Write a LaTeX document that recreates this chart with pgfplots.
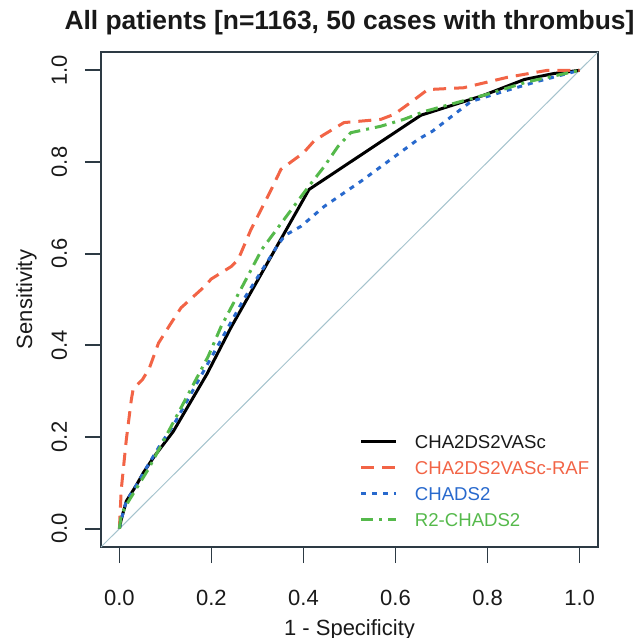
\documentclass[border=0pt]{standalone}
\usepackage{fontspec}
\setmainfont{Liberation Sans}
\usepackage{pgfplots}
\pgfplotsset{compat=1.18}
\definecolor{framec}{RGB}{45,58,68}
\definecolor{redc}{RGB}{242,100,70}
\definecolor{bluec}{RGB}{40,105,205}
\definecolor{greenc}{RGB}{85,185,75}
\definecolor{diagc}{RGB}{165,195,205}
\definecolor{txt}{RGB}{25,25,25}
\begin{document}
\begin{tikzpicture}
\useasboundingbox (-50.5pt,-45.5pt) rectangle (266.5pt,273.5pt);
\begin{axis}[
  at={(0pt,0pt)}, anchor=south west,
  scale only axis, width=248.5pt, height=247.5pt,
  xmin=-0.04, xmax=1.04, ymin=-0.04, ymax=1.04,
  no markers,
  axis line style={framec, line width=0.9pt},
  xtick={0,0.2,0.4,0.6,0.8,1}, ytick={0,0.2,0.4,0.6,0.8,1},
  xticklabels={0.0,0.2,0.4,0.6,0.8,1.0},
  yticklabels={0.0,0.2,0.4,0.6,0.8,1.0},
  tick pos=left, tick align=outside, major tick length=8pt,
  tick style={framec, line width=0.9pt},
  ticklabel style={font=\fontsize{11}{13}\selectfont, text=txt, inner sep=0pt},
  xticklabel style={anchor=base},
  xticklabel shift=21pt,
  yticklabel style={rotate=90, anchor=base},
  yticklabel shift=9pt,
  title={All patients [n=1163, 50 cases with thrombus]},
  title style={at={(axis description cs:0.5,1)}, anchor=base, yshift=5pt,
    font=\bfseries\fontsize{13.2}{15}\selectfont, text=txt, inner sep=0pt},
  xlabel={1 - Specificity},
  xlabel style={at={(axis description cs:0.5,-0.1798)}, anchor=base,
    font=\fontsize{11}{13}\selectfont, text=txt, inner sep=0pt},
  ylabel={Sensitivity},
  ylabel style={at={(axis description cs:-0.1388,0.5)}, anchor=base,
    font=\fontsize{11}{13}\selectfont, text=txt, inner sep=0pt},
  legend style={draw=none, fill=none, at={(axis description cs:0.521,0.2257)},
    anchor=north west, inner sep=0pt, outer sep=0pt, row sep=6.3pt, column sep=8.5pt,
    font=\fontsize{9.3}{11}\selectfont,
    nodes={inner sep=0pt, text height=6.7pt, text depth=0pt}},
  legend cell align=left,
  legend image code/.code={\draw[#1] (0pt,0pt) -- (17.5pt,0pt);},
]
\addplot[diagc, line width=0.5pt, forget plot] coordinates {(-0.04,-0.04) (1.04,1.04)};
\addplot[black, line width=1.5pt, line join=round] coordinates {
(0,0) (0.004,0.02) (0.015,0.06) (0.037,0.095) (0.052,0.122) (0.076,0.158) (0.117,0.212)
(0.19,0.337) (0.243,0.44) (0.412,0.74) (0.655,0.902) (0.79,0.945) (0.88,0.98)
(0.944,0.993) (1,1)};
\addlegendentry{\textcolor{txt}{CHA2DS2VASc}}
\addplot[redc, line width=1.5pt, dash pattern=on 6.5pt off 4pt, line join=round] coordinates {
(0,0) (0.004,0.085) (0.015,0.194) (0.026,0.282) (0.03,0.305) (0.05,0.325) (0.065,0.35)
(0.085,0.405) (0.11,0.445) (0.134,0.482) (0.178,0.522) (0.2,0.545) (0.243,0.572)
(0.258,0.587) (0.286,0.653) (0.33,0.74) (0.351,0.784) (0.40,0.82) (0.423,0.846)
(0.445,0.86) (0.488,0.886) (0.568,0.893) (0.597,0.904) (0.633,0.93) (0.67,0.958)
(0.748,0.962) (0.844,0.985) (0.93,1.0) (1,1)};
\addlegendentry{\textcolor{redc}{CHA2DS2VASc-RAF}}
\addplot[bluec, line width=1.5pt, dash pattern=on 2.5pt off 3pt, line join=round] coordinates {
(0,0) (0.004,0.02) (0.015,0.06) (0.04,0.1) (0.06,0.135) (0.09,0.185) (0.117,0.225)
(0.27,0.5) (0.345,0.62) (0.36,0.64) (0.395,0.66) (0.445,0.703) (0.525,0.758)
(0.65,0.85) (0.68,0.867) (0.764,0.932) (0.835,0.954) (0.909,0.976) (1,1)};
\addlegendentry{\textcolor{bluec}{CHADS2}}
\addplot[greenc, line width=1.5pt, dash pattern=on 6pt off 3pt on 1.5pt off 3pt, line join=round] coordinates {
(0,0) (0.004,0.03) (0.02,0.06) (0.063,0.13) (0.095,0.19) (0.193,0.376) (0.221,0.441)
(0.31,0.61) (0.41,0.745) (0.445,0.79) (0.475,0.834) (0.503,0.864) (0.568,0.878)
(0.618,0.893) (0.662,0.91) (0.8,0.948) (0.887,0.975) (1,1)};
\addlegendentry{\textcolor{greenc}{R2-CHADS2}}
\end{axis}
\end{tikzpicture}
\end{document}
